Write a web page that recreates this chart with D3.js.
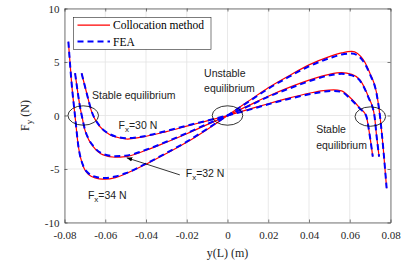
<!DOCTYPE html>
<html lang="en">
  <head>
    <meta charset="utf-8">
    <title>Fy vs y(L)</title>
    <script src="https://cdn.jsdelivr.net/npm/d3@7/dist/d3.min.js"></script>
    <style>
      body { margin: 0; background: #fff; }
      svg { display: block; }
      .axis text { font-family: "Liberation Serif", "Times New Roman", serif; font-size: 11px; fill: #262626; }
      .axis path, .axis line { stroke: #262626; stroke-width: 0.6; }
      .note { font-family: "Liberation Sans", Arial, sans-serif; font-size: 10.5px; fill: #222; }
    </style>
  </head>
  <body>
    <script>

      //Width and height
      var w = 403;
      var h = 270;
      var margin = {left: 64.5, right: 12.5, top: 8.5, bottom: 47.5};

      //Ticks
      var xTicks = [-0.08, -0.06, -0.04, -0.02, 0, 0.02, 0.04, 0.06, 0.08];
      var xTickLabels = ["-0.08", "-0.06", "-0.04", "-0.02", "0", "0.02", "0.04", "0.06", "0.08"];
      var yTicks = [-10, -5, 0, 5, 10];
      var yTickLabels = ["-10", "-5", "0", "5", "10"];

      //Fx = 34 N (outer curve)
      var x34 = [-0.0781, -0.0765, -0.0748, -0.0732, -0.0708, -0.0685, -0.0667, -0.063, -0.060, -0.055, -0.050, -0.040, -0.030, -0.020, -0.010, 0, 0.010, 0.020, 0.030, 0.040, 0.050, 0.056, 0.061, 0.0667, 0.0699, 0.0732, 0.0748, 0.0765, 0.0781];
      var coll34 = [6.9, 3.0, -0.1, -2.9, -4.77, -5.45, -5.7, -5.92, -5.95, -5.8, -5.45, -4.55, -3.55, -2.5, -1.3, 0, 1.3, 2.6, 3.7, 4.73, 5.5, 5.85, 6.0, 5.2, 3.95, 2.08, 0, -3.2, -6.8];
      var fea34 = [6.9, 3.0, -0.1, -2.85, -4.7, -5.35, -5.6, -5.8, -5.85, -5.7, -5.4, -4.5, -3.5, -2.45, -1.25, 0, 1.25, 2.5, 3.6, 4.6, 5.35, 5.7, 5.8, 5.05, 3.85, 2.0, 0, -3.2, -6.8];

      //Fx = 32 N (middle curve)
      var x32 = [-0.0748, -0.0736, -0.0724, -0.0712, -0.070, -0.068, -0.0659, -0.061, -0.0552, -0.050, -0.040, -0.030, -0.020, -0.010, 0, 0.010, 0.020, 0.030, 0.040, 0.050, 0.056, 0.061, 0.065, 0.0691, 0.0721, 0.0732, 0.0744];
      var coll32 = [3.95, 2.3, 0.83, -0.3, -1.35, -2.3, -2.9, -3.68, -3.9, -3.85, -3.25, -2.5, -1.7, -0.85, 0, 0.9, 1.8, 2.6, 3.3, 3.85, 4.0, 3.85, 3.33, 1.77, 0, -1.97, -3.84];
      var fea32 = [3.95, 2.3, 0.83, -0.3, -1.3, -2.25, -2.85, -3.6, -3.8, -3.75, -3.2, -2.45, -1.65, -0.8, 0, 0.85, 1.75, 2.5, 3.2, 3.75, 3.9, 3.75, 3.25, 1.72, 0, -1.97, -3.84];

      //Fx = 30 N (inner curve)
      var x30 = [-0.0716, -0.0691, -0.0667, -0.0626, -0.0577, -0.0528, -0.049, -0.043, -0.030, -0.020, -0.010, 0, 0.010, 0.020, 0.030, 0.040, 0.047, 0.052, 0.056, 0.060, 0.065, 0.068, 0.0699, 0.0713];
      var coll30 = [3.95, 2.08, 0.36, -1.04, -1.8, -2.1, -2.2, -2.05, -1.5, -1.0, -0.5, 0, 0.55, 1.1, 1.62, 2.08, 2.33, 2.4, 2.3, 1.7, 0.68, 0, -1.97, -3.84];
      var fea30 = [3.95, 2.08, 0.4, -1.0, -1.75, -2.05, -2.12, -2.0, -1.45, -0.95, -0.48, 0, 0.5, 1.05, 1.55, 1.98, 2.22, 2.3, 2.2, 1.62, 0.64, 0, -1.97, -3.84];

      var iw = w - margin.left - margin.right;
      var ih = h - margin.top - margin.bottom;

      var xScale = d3.scaleLinear().domain([-0.08, 0.08]).range([0, iw]);
      var yScale = d3.scaleLinear().domain([-10, 10]).range([ih, 0]);

      var svg = d3.select("body").append("svg")
                  .attr("width", w)
                  .attr("height", h);

      var g = svg.append("g")
                 .attr("transform", "translate(" + margin.left + "," + margin.top + ")");

      //Grid
      g.selectAll(".gx").data(xTicks).enter().append("line")
        .attr("x1", function(d) { return xScale(d); })
        .attr("x2", function(d) { return xScale(d); })
        .attr("y1", 0).attr("y2", ih)
        .attr("stroke", "#e3e3e3").attr("stroke-width", 0.8);
      g.selectAll(".gy").data(yTicks).enter().append("line")
        .attr("y1", function(d) { return yScale(d); })
        .attr("y2", function(d) { return yScale(d); })
        .attr("x1", 0).attr("x2", iw)
        .attr("stroke", "#e3e3e3").attr("stroke-width", 0.8);

      //Curves
      var line = d3.line()
                   .x(function(d) { return xScale(d[0]); })
                   .y(function(d) { return yScale(d[1]); })
                   .curve(d3.curveMonotoneX);

      var series = [
        {x: x34, coll: coll34, fea: fea34},
        {x: x32, coll: coll32, fea: fea32},
        {x: x30, coll: coll30, fea: fea30}
      ];

      series.forEach(function(s) {
        g.append("path")
          .datum(s.x.map(function(v, i) { return [v, s.coll[i]]; }))
          .attr("fill", "none")
          .attr("stroke", "#ff0000")
          .attr("stroke-width", 1.2)
          .attr("d", line);
      });
      series.forEach(function(s) {
        g.append("path")
          .datum(s.x.map(function(v, i) { return [v, s.fea[i]]; }))
          .attr("fill", "none")
          .attr("stroke", "#0000ff")
          .attr("stroke-width", 2)
          .attr("stroke-dasharray", "6,4")
          .attr("d", line);
      });

      //Axes (MATLAB-like box, ticks pointing inwards)
      var xAxis = d3.axisBottom(xScale).tickValues(xTicks).tickSize(-3).tickSizeOuter(0).tickPadding(8.5)
                    .tickFormat(function(d, i) { return xTickLabels[i]; });
      var yAxis = d3.axisLeft(yScale).tickValues(yTicks).tickSize(-3).tickSizeOuter(0).tickPadding(5)
                    .tickFormat(function(d, i) { return yTickLabels[i]; });

      g.append("g").attr("class", "axis")
        .attr("transform", "translate(0," + ih + ")")
        .call(xAxis);
      g.append("g").attr("class", "axis")
        .call(yAxis);
      g.append("g").attr("class", "axis")
        .call(d3.axisTop(xScale).tickValues(xTicks).tickSize(-3).tickSizeOuter(0).tickFormat(""));
      g.append("g").attr("class", "axis")
        .attr("transform", "translate(" + iw + ",0)")
        .call(d3.axisRight(yScale).tickValues(yTicks).tickSize(-3).tickSizeOuter(0).tickFormat(""));

      //Axis labels
      svg.append("text")
        .attr("x", margin.left + iw / 2).attr("y", 257)
        .attr("text-anchor", "middle")
        .style("font-family", "Liberation Serif, serif").style("font-size", "12px").style("fill", "#262626")
        .text("y(L) (m)");

      var yl = svg.append("text")
        .attr("transform", "translate(29," + (margin.top + ih / 2) + ") rotate(-90)")
        .attr("text-anchor", "middle")
        .style("font-family", "Liberation Serif, serif").style("font-size", "12px").style("fill", "#262626");
      yl.append("tspan").text("F");
      yl.append("tspan").attr("dy", 3).style("font-size", "9px").text("y");
      yl.append("tspan").attr("dy", -3).text(" (N)");

      //Ellipses marking the equilibria
      var marks = [[-0.0708, 0], [0, 0], [0.0701, -0.1]];
      g.selectAll(".eq").data(marks).enter().append("ellipse")
        .attr("cx", function(d) { return xScale(d[0]); })
        .attr("cy", function(d) { return yScale(d[1]); })
        .attr("rx", 15.3).attr("ry", 9.7)
        .attr("fill", "none").attr("stroke", "#000").attr("stroke-width", 0.8);

      //Notes
      function note(x, y, str) {
        g.append("text").attr("class", "note")
          .attr("x", xScale(x)).attr("y", yScale(y)).text(str);
      }
      function fnote(x, y, sub, str) {
        var t = g.append("text").attr("class", "note")
          .attr("x", xScale(x)).attr("y", yScale(y));
        t.append("tspan").text("F");
        t.append("tspan").attr("dy", 3).style("font-size", "8px").text(sub);
        t.append("tspan").attr("dy", -3).text(str);
      }
      note(-0.0665, 1.57, "Stable equilibrium");
      note(-0.0115, 3.6, "Unstable");
      note(-0.0115, 2.2, "equilibrium");
      note(0.0435, -1.67, "Stable");
      note(0.0435, -3.15, "equilibrium");
      fnote(-0.0535, -1.3, "x", "=30 N");
      fnote(-0.0205, -5.77, "x", "=32 N");
      fnote(-0.0685, -7.8, "x", "=34 N");

      //Arrow
      svg.append("defs").append("marker")
        .attr("id", "ah").attr("viewBox", "0 0 10 10")
        .attr("refX", 10).attr("refY", 5)
        .attr("markerWidth", 7).attr("markerHeight", 7)
        .attr("orient", "auto")
        .append("path").attr("d", "M0,1 L10,5 L0,9 Z").attr("fill", "#000");
      g.append("line")
        .attr("x1", xScale(-0.0234)).attr("y1", yScale(-5.55))
        .attr("x2", xScale(-0.0495)).attr("y2", yScale(-3.95))
        .attr("stroke", "#000").attr("stroke-width", 0.8)
        .attr("marker-end", "url(#ah)");

      //Legend
      var lg = g.append("g").attr("transform", "translate(9,8.8)");
      lg.append("rect").attr("width", 137.5).attr("height", 32)
        .attr("fill", "#fff").attr("stroke", "#262626").attr("stroke-width", 0.6);
      lg.append("line").attr("x1", 4).attr("x2", 36.5).attr("y1", 7.8).attr("y2", 7.8)
        .attr("stroke", "#ff0000").attr("stroke-width", 1.2);
      lg.append("line").attr("x1", 4).attr("x2", 36.5).attr("y1", 24.3).attr("y2", 24.3)
        .attr("stroke", "#0000ff").attr("stroke-width", 2).attr("stroke-dasharray", "6,4");
      lg.append("text").attr("x", 39.5).attr("y", 11.8)
        .style("font-family", "Liberation Serif, serif").style("font-size", "11.5px").style("fill", "#000")
        .text("Collocation method");
      lg.append("text").attr("x", 39.5).attr("y", 28.3)
        .style("font-family", "Liberation Serif, serif").style("font-size", "11.5px").style("fill", "#000")
        .text("FEA");

    </script>
  </body>
</html>
